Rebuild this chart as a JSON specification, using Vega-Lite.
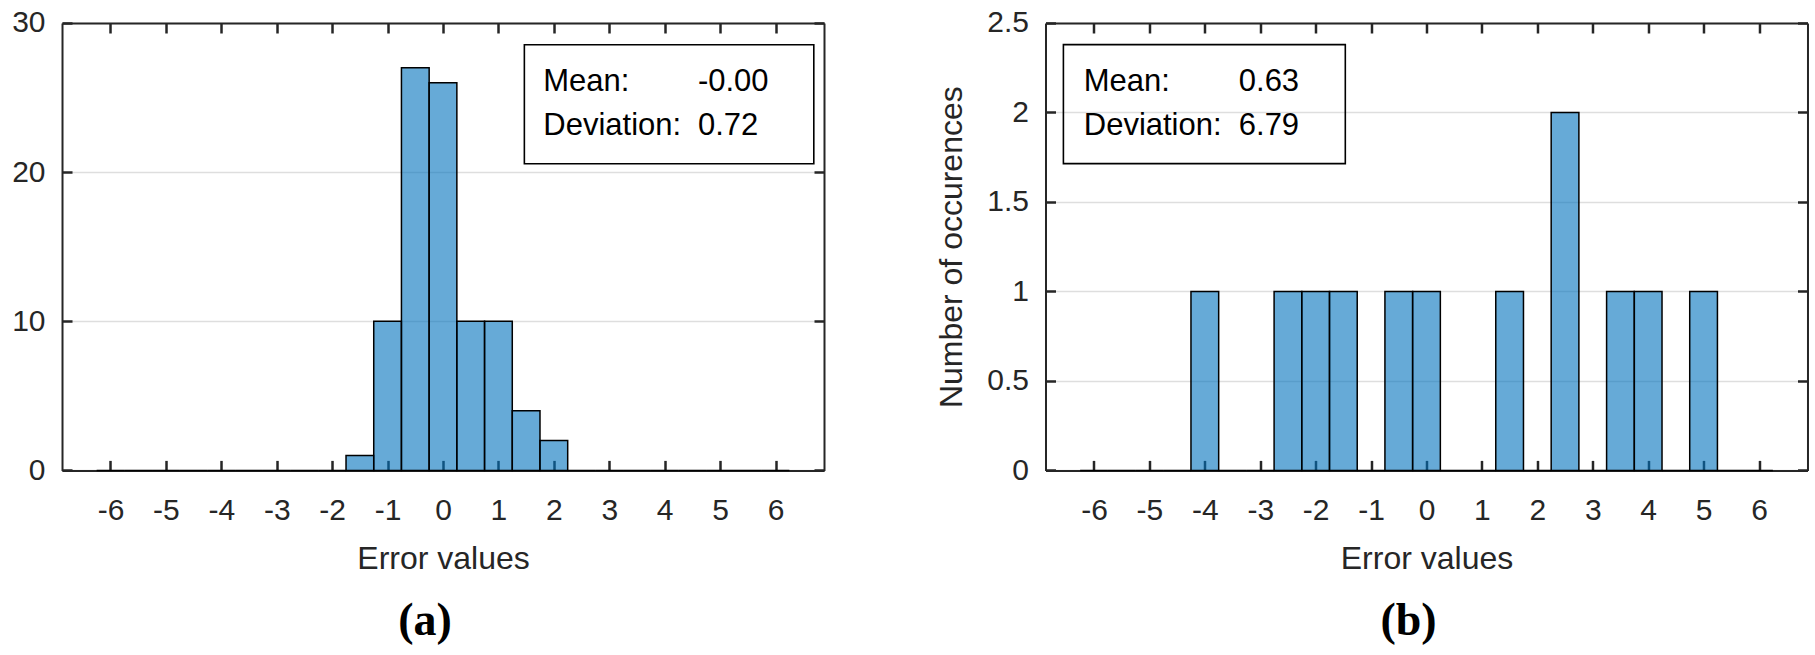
{
  "$schema": "https://vega.github.io/schema/vega-lite/v6.json",
  "background": "white",
  "padding": {"left": 11, "top": 8, "right": 8, "bottom": 4},
  "autosize": {"type": "pad"},
  "datasets": {
    "a": [
      {"x0": -6.25, "x1": -5.75, "count": 0},
      {"x0": -5.75, "x1": -5.25, "count": 0},
      {"x0": -5.25, "x1": -4.75, "count": 0},
      {"x0": -4.75, "x1": -4.25, "count": 0},
      {"x0": -4.25, "x1": -3.75, "count": 0},
      {"x0": -3.75, "x1": -3.25, "count": 0},
      {"x0": -3.25, "x1": -2.75, "count": 0},
      {"x0": -2.75, "x1": -2.25, "count": 0},
      {"x0": -2.25, "x1": -1.75, "count": 0},
      {"x0": -1.75, "x1": -1.25, "count": 1},
      {"x0": -1.25, "x1": -0.75, "count": 10},
      {"x0": -0.75, "x1": -0.25, "count": 27},
      {"x0": -0.25, "x1": 0.25, "count": 26},
      {"x0": 0.25, "x1": 0.75, "count": 10},
      {"x0": 0.75, "x1": 1.25, "count": 10},
      {"x0": 1.25, "x1": 1.75, "count": 4},
      {"x0": 1.75, "x1": 2.25, "count": 2},
      {"x0": 2.25, "x1": 2.75, "count": 0},
      {"x0": 2.75, "x1": 3.25, "count": 0},
      {"x0": 3.25, "x1": 3.75, "count": 0},
      {"x0": 3.75, "x1": 4.25, "count": 0},
      {"x0": 4.25, "x1": 4.75, "count": 0},
      {"x0": 4.75, "x1": 5.25, "count": 0},
      {"x0": 5.25, "x1": 5.75, "count": 0},
      {"x0": 5.75, "x1": 6.25, "count": 0}
    ],
    "b": [
      {"x0": -6.25, "x1": -5.75, "count": 0},
      {"x0": -5.75, "x1": -5.25, "count": 0},
      {"x0": -5.25, "x1": -4.75, "count": 0},
      {"x0": -4.75, "x1": -4.25, "count": 0},
      {"x0": -4.25, "x1": -3.75, "count": 1},
      {"x0": -3.75, "x1": -3.25, "count": 0},
      {"x0": -3.25, "x1": -2.75, "count": 0},
      {"x0": -2.75, "x1": -2.25, "count": 1},
      {"x0": -2.25, "x1": -1.75, "count": 1},
      {"x0": -1.75, "x1": -1.25, "count": 1},
      {"x0": -1.25, "x1": -0.75, "count": 0},
      {"x0": -0.75, "x1": -0.25, "count": 1},
      {"x0": -0.25, "x1": 0.25, "count": 1},
      {"x0": 0.25, "x1": 0.75, "count": 0},
      {"x0": 0.75, "x1": 1.25, "count": 0},
      {"x0": 1.25, "x1": 1.75, "count": 1},
      {"x0": 1.75, "x1": 2.25, "count": 0},
      {"x0": 2.25, "x1": 2.75, "count": 2},
      {"x0": 2.75, "x1": 3.25, "count": 0},
      {"x0": 3.25, "x1": 3.75, "count": 1},
      {"x0": 3.75, "x1": 4.25, "count": 1},
      {"x0": 4.25, "x1": 4.75, "count": 0},
      {"x0": 4.75, "x1": 5.25, "count": 1},
      {"x0": 5.25, "x1": 5.75, "count": 0},
      {"x0": 5.75, "x1": 6.25, "count": 0}
    ],
    "statsA": [
      {"line": 1, "stat": "Mean:", "value": "-0.00"},
      {"line": 2, "stat": "Deviation:", "value": "0.72"}
    ],
    "statsB": [
      {"line": 1, "stat": "Mean:", "value": "0.63"},
      {"line": 2, "stat": "Deviation:", "value": "6.79"}
    ]
  },
  "hconcat": [
    {
      "width": 762,
      "height": 447.4,
      "title": {"text": "(a)", "orient": "bottom", "anchor": "middle", "dx": -18, "offset": 25, "font": "Liberation Serif", "fontSize": 46, "fontWeight": "bold", "color": "#000000"},
      "layer": [
        {
          "data": {"name": "a"},
          "mark": {"type": "bar", "fill": "#0072BD", "fillOpacity": 0.6, "stroke": "#000000", "strokeWidth": 1.5},
          "encoding": {
            "x": {"field": "x0", "type": "quantitative", "scale": {"domain": [-6.875, 6.875], "nice": false, "zero": false},
              "axis": {"orient": "bottom", "values": [-6, -5, -4, -3, -2, -1, 0, 1, 2, 3, 4, 5, 6], "labelExpr": "toString(datum.value)", "title": "Error values", "grid": false, "ticks": false, "tickSize": 0, "labelPadding": 25, "titlePadding": 18, "labelOverlap": false, "labelFlush": false}},
            "x2": {"field": "x1"},
            "y": {"field": "count", "type": "quantitative", "scale": {"domain": [0, 30], "nice": false},
              "axis": {"orient": "left", "values": [0, 10, 20, 30], "labelExpr": "toString(datum.value)", "title": null, "grid": true, "ticks": false, "tickSize": 0, "labelPadding": 17, "labelOverlap": false}},
            "y2": {"datum": 0}
          }
        },
        {
          "data": {"name": "a"},
          "mark": {"type": "point", "opacity": 0},
          "encoding": {
            "x": {"field": "x0", "type": "quantitative", "axis": {"orient": "top", "offset": -447.4, "values": [-6, -5, -4, -3, -2, -1, 0, 1, 2, 3, 4, 5, 6], "domain": false, "labels": false, "ticks": true, "tickSize": 10, "tickColor": "#262626", "tickWidth": 2.5, "title": null, "grid": false}},
            "y": {"field": "count", "type": "quantitative", "axis": {"orient": "right", "offset": -762, "values": [0, 10, 20, 30], "domain": false, "labels": false, "ticks": true, "tickSize": 10, "tickColor": "#262626", "tickWidth": 2.5, "title": null, "grid": false}}
          }
        },
        {
          "data": {"name": "a"},
          "mark": {"type": "point", "opacity": 0},
          "encoding": {
            "x": {"field": "x0", "type": "quantitative", "axis": {"orient": "bottom", "offset": -447.4, "values": [-6, -5, -4, -3, -2, -1, 0, 1, 2, 3, 4, 5, 6], "domain": true, "labels": false, "ticks": true, "tickSize": 10, "tickColor": "#262626", "tickWidth": 2.5, "title": null, "grid": false}},
            "y": {"field": "count", "type": "quantitative", "axis": {"orient": "left", "offset": -762, "values": [0, 10, 20, 30], "domain": true, "labels": false, "ticks": true, "tickSize": 10, "tickColor": "#262626", "tickWidth": 2.5, "title": null, "grid": false}}
          }
        },
        {
          "data": {"values": [{}]},
          "mark": {"type": "rect", "filled": false, "stroke": "#000000", "strokeWidth": 1.6},
          "encoding": {
            "x": {"datum": 1.468, "type": "quantitative", "axis": null},
            "x2": {"datum": 6.691},
            "y": {"datum": 28.54, "type": "quantitative", "axis": null},
            "y2": {"datum": 20.56}
          }
        },
        {
          "data": {"name": "statsA"},
          "transform": [{"filter": "datum.line == 1"}],
          "mark": {"type": "text", "align": "left", "baseline": "alphabetic", "fontSize": 31, "font": "Liberation Sans", "color": "#000000"},
          "encoding": {
            "x": {"datum": 1.81, "type": "quantitative", "axis": null},
            "y": {"datum": 25.41, "type": "quantitative", "axis": null},
            "text": {"field": "stat"}
          }
        },
        {
          "data": {"name": "statsA"},
          "transform": [{"filter": "datum.line == 1"}],
          "mark": {"type": "text", "align": "left", "baseline": "alphabetic", "fontSize": 31, "font": "Liberation Sans", "color": "#000000"},
          "encoding": {
            "x": {"datum": 4.6, "type": "quantitative", "axis": null},
            "y": {"datum": 25.41, "type": "quantitative", "axis": null},
            "text": {"field": "value"}
          }
        },
        {
          "data": {"name": "statsA"},
          "transform": [{"filter": "datum.line == 2"}],
          "mark": {"type": "text", "align": "left", "baseline": "alphabetic", "fontSize": 31, "font": "Liberation Sans", "color": "#000000"},
          "encoding": {
            "x": {"datum": 1.81, "type": "quantitative", "axis": null},
            "y": {"datum": 22.51, "type": "quantitative", "axis": null},
            "text": {"field": "stat"}
          }
        },
        {
          "data": {"name": "statsA"},
          "transform": [{"filter": "datum.line == 2"}],
          "mark": {"type": "text", "align": "left", "baseline": "alphabetic", "fontSize": 31, "font": "Liberation Sans", "color": "#000000"},
          "encoding": {
            "x": {"datum": 4.6, "type": "quantitative", "axis": null},
            "y": {"datum": 22.51, "type": "quantitative", "axis": null},
            "text": {"field": "value"}
          }
        }
      ],
      "resolve": {"axis": {"x": "independent", "y": "independent"}}
    },
    {
      "width": 762,
      "height": 447.4,
      "title": {"text": "(b)", "orient": "bottom", "anchor": "middle", "dx": -18, "offset": 25, "font": "Liberation Serif", "fontSize": 46, "fontWeight": "bold", "color": "#000000"},
      "layer": [
        {
          "data": {"name": "b"},
          "mark": {"type": "bar", "fill": "#0072BD", "fillOpacity": 0.6, "stroke": "#000000", "strokeWidth": 1.5},
          "encoding": {
            "x": {"field": "x0", "type": "quantitative", "scale": {"domain": [-6.875, 6.875], "nice": false, "zero": false},
              "axis": {"orient": "bottom", "values": [-6, -5, -4, -3, -2, -1, 0, 1, 2, 3, 4, 5, 6], "labelExpr": "toString(datum.value)", "title": "Error values", "grid": false, "ticks": false, "tickSize": 0, "labelPadding": 25, "titlePadding": 18, "labelOverlap": false, "labelFlush": false}},
            "x2": {"field": "x1"},
            "y": {"field": "count", "type": "quantitative", "scale": {"domain": [0, 2.5], "nice": false},
              "axis": {"orient": "left", "values": [0, 0.5, 1, 1.5, 2, 2.5], "labelExpr": "toString(datum.value)", "title": "Number of occurences", "grid": true, "ticks": false, "tickSize": 0, "labelPadding": 17, "titlePadding": 18, "labelOverlap": false}},
            "y2": {"datum": 0}
          }
        },
        {
          "data": {"name": "b"},
          "mark": {"type": "point", "opacity": 0},
          "encoding": {
            "x": {"field": "x0", "type": "quantitative", "axis": {"orient": "top", "offset": -447.4, "values": [-6, -5, -4, -3, -2, -1, 0, 1, 2, 3, 4, 5, 6], "domain": false, "labels": false, "ticks": true, "tickSize": 10, "tickColor": "#262626", "tickWidth": 2.5, "title": null, "grid": false}},
            "y": {"field": "count", "type": "quantitative", "axis": {"orient": "right", "offset": -762, "values": [0, 0.5, 1, 1.5, 2, 2.5], "domain": false, "labels": false, "ticks": true, "tickSize": 10, "tickColor": "#262626", "tickWidth": 2.5, "title": null, "grid": false}}
          }
        },
        {
          "data": {"name": "b"},
          "mark": {"type": "point", "opacity": 0},
          "encoding": {
            "x": {"field": "x0", "type": "quantitative", "axis": {"orient": "bottom", "offset": -447.4, "values": [-6, -5, -4, -3, -2, -1, 0, 1, 2, 3, 4, 5, 6], "domain": true, "labels": false, "ticks": true, "tickSize": 10, "tickColor": "#262626", "tickWidth": 2.5, "title": null, "grid": false}},
            "y": {"field": "count", "type": "quantitative", "axis": {"orient": "left", "offset": -762, "values": [0, 0.5, 1, 1.5, 2, 2.5], "domain": true, "labels": false, "ticks": true, "tickSize": 10, "tickColor": "#262626", "tickWidth": 2.5, "title": null, "grid": false}}
          }
        },
        {
          "data": {"values": [{}]},
          "mark": {"type": "rect", "filled": false, "stroke": "#000000", "strokeWidth": 1.6},
          "encoding": {
            "x": {"datum": -6.552, "type": "quantitative", "axis": null},
            "x2": {"datum": -1.465},
            "y": {"datum": 2.379, "type": "quantitative", "axis": null},
            "y2": {"datum": 1.714}
          }
        },
        {
          "data": {"name": "statsB"},
          "transform": [{"filter": "datum.line == 1"}],
          "mark": {"type": "text", "align": "left", "baseline": "alphabetic", "fontSize": 31, "font": "Liberation Sans", "color": "#000000"},
          "encoding": {
            "x": {"datum": -6.184, "type": "quantitative", "axis": null},
            "y": {"datum": 2.118, "type": "quantitative", "axis": null},
            "text": {"field": "stat"}
          }
        },
        {
          "data": {"name": "statsB"},
          "transform": [{"filter": "datum.line == 1"}],
          "mark": {"type": "text", "align": "left", "baseline": "alphabetic", "fontSize": 31, "font": "Liberation Sans", "color": "#000000"},
          "encoding": {
            "x": {"datum": -3.387, "type": "quantitative", "axis": null},
            "y": {"datum": 2.118, "type": "quantitative", "axis": null},
            "text": {"field": "value"}
          }
        },
        {
          "data": {"name": "statsB"},
          "transform": [{"filter": "datum.line == 2"}],
          "mark": {"type": "text", "align": "left", "baseline": "alphabetic", "fontSize": 31, "font": "Liberation Sans", "color": "#000000"},
          "encoding": {
            "x": {"datum": -6.184, "type": "quantitative", "axis": null},
            "y": {"datum": 1.876, "type": "quantitative", "axis": null},
            "text": {"field": "stat"}
          }
        },
        {
          "data": {"name": "statsB"},
          "transform": [{"filter": "datum.line == 2"}],
          "mark": {"type": "text", "align": "left", "baseline": "alphabetic", "fontSize": 31, "font": "Liberation Sans", "color": "#000000"},
          "encoding": {
            "x": {"datum": -3.387, "type": "quantitative", "axis": null},
            "y": {"datum": 1.876, "type": "quantitative", "axis": null},
            "text": {"field": "value"}
          }
        }
      ],
      "resolve": {"axis": {"x": "independent", "y": "independent"}}
    }
  ],
  "spacing": 221.5,
  "bounds": "flush",
  "config": {
    "view": {"stroke": null},
    "font": "Liberation Sans",
    "axis": {
      "domainColor": "#262626",
      "domainWidth": 2,
      "tickColor": "#262626",
      "tickWidth": 2.5,
      "labelColor": "#262626",
      "labelFont": "Liberation Sans",
      "labelFontSize": 30,
      "titleFont": "Liberation Sans",
      "titleFontSize": 32,
      "titleFontWeight": "normal",
      "titleColor": "#262626",
      "gridColor": "#dedede",
      "gridWidth": 1.5
    }
  }
}
